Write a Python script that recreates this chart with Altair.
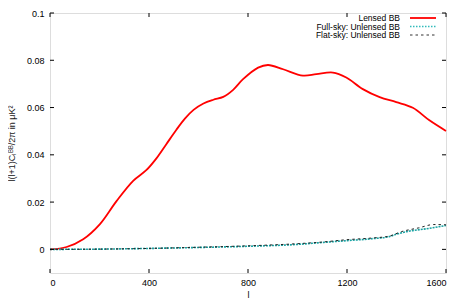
import altair as alt
import pandas as pd

# ---- data ----
lensed_l = [0, 67, 134, 201, 268, 336, 390, 430, 470, 510, 545, 580, 620, 660, 700,
            740, 780, 841, 881, 942, 1022, 1076, 1143, 1197, 1264, 1332, 1399, 1466,
            1533, 1600]
lensed_v = [0.0, 0.001, 0.0043, 0.0106, 0.0203, 0.0290, 0.0336, 0.0385, 0.0445, 0.0505,
            0.0553, 0.0590, 0.0617, 0.0633, 0.0645, 0.0675, 0.0720, 0.0769,
            0.0780, 0.0762, 0.0735, 0.0741, 0.0748, 0.0727, 0.0678, 0.0644, 0.0623,
            0.0599, 0.0546, 0.0501]

full_l = [0, 200, 400, 600, 800, 1000, 1100, 1200, 1300, 1370, 1400, 1450, 1520, 1600]
full_v = [0.0, 0.0001, 0.0004, 0.0008, 0.0013, 0.0021, 0.0029, 0.0037, 0.0045, 0.0054,
          0.0064, 0.0077, 0.0087, 0.0101]

flat_l = [0, 200, 400, 600, 800, 1000, 1100, 1200, 1300, 1370, 1420, 1490, 1550, 1600]
flat_v = [0.0, 0.0001, 0.0004, 0.0009, 0.0015, 0.0024, 0.0031, 0.0041, 0.0048, 0.0056,
          0.0075, 0.0091, 0.0105, 0.0104]

series_names = ["Lensed BB", "Full-sky: Unlensed BB", "Flat-sky: Unlensed BB"]
x_ticks = [0, 400, 800, 1200, 1600]
y_ticks = [0, 0.02, 0.04, 0.06, 0.08, 0.1]
x_domain = [0, 1600]
y_domain = [-0.01, 0.1]

W, H = 396, 260
FONT = "Liberation Sans"

xs = alt.Scale(domain=x_domain, nice=False, zero=False)
ys = alt.Scale(domain=y_domain, nice=False, zero=False)

df_lensed = pd.DataFrame({"l": lensed_l, "v": lensed_v})
df_full = pd.DataFrame({"l": full_l, "v": full_v})
df_flat = pd.DataFrame({"l": flat_l, "v": flat_v})

xaxis = alt.Axis(values=x_ticks, format="d", tickSize=0, domain=False, grid=False,
                 labelFontSize=9, labelPadding=5, labelFont=FONT, labelColor="#000",
                 title="l", titleFont=FONT, titleFontSize=9, titleFontWeight="normal",
                 titlePadding=3, titleColor="#000")
yaxis = alt.Axis(values=y_ticks, format="~g", tickSize=0, domain=False, grid=False,
                 labelFontSize=9, labelPadding=6, labelFont=FONT, labelColor="#000",
                 title="l(l+1)Cₗᴮᴮ/2π in μK²", titleFont=FONT, titleFontSize=9,
                 titleFontWeight="normal", titlePadding=10, titleColor="#222")

lensed = alt.Chart(df_lensed).mark_line(color="#ff0000", strokeWidth=1.8,
                                        interpolate="catmull-rom").encode(
    x=alt.X("l:Q", scale=xs, axis=xaxis),
    y=alt.Y("v:Q", scale=ys, axis=yaxis),
)
full = alt.Chart(df_full).mark_line(color="#1aa3a3", strokeWidth=1.6, strokeDash=[2, 1],
                                    interpolate="monotone").encode(
    x=alt.X("l:Q", scale=xs), y=alt.Y("v:Q", scale=ys))
flat = alt.Chart(df_flat).mark_line(color="#222222", strokeWidth=1, strokeDash=[2.5, 3],
                                    interpolate="monotone").encode(
    x=alt.X("l:Q", scale=xs), y=alt.Y("v:Q", scale=ys))

# mirrored, inward ticks (gnuplot style)
dxt = pd.DataFrame({"t": x_ticks})
dyt = pd.DataFrame({"t": y_ticks})
TL = 4
tick_style = dict(color="#000", strokeWidth=1)
xt_bottom = alt.Chart(dxt).mark_rule(**tick_style).encode(
    x=alt.X("t:Q", scale=xs), y=alt.value(H), y2=alt.value(H - TL))
xt_top = alt.Chart(dxt).mark_rule(**tick_style).encode(
    x=alt.X("t:Q", scale=xs), y=alt.value(0), y2=alt.value(TL))
yt_left = alt.Chart(dyt).mark_rule(**tick_style).encode(
    y=alt.Y("t:Q", scale=ys), x=alt.value(0), x2=alt.value(TL))
yt_right = alt.Chart(dyt).mark_rule(**tick_style).encode(
    y=alt.Y("t:Q", scale=ys), x=alt.value(W), x2=alt.value(W - TL))

# legend (gnuplot style: text right-aligned, sample on the right)
leg_rows = [5, 13.5, 22]
leg_styles = [
    dict(color="#ff0000", strokeWidth=1.8),
    dict(color="#33bbbb", strokeWidth=1.5, strokeDash=[1.5, 1.5]),
    dict(color="#333333", strokeWidth=1, strokeDash=[2.5, 3]),
]
legend_layers = []
for name, yy, st in zip(series_names, leg_rows, leg_styles):
    d = pd.DataFrame({"label": [name]})
    legend_layers.append(alt.Chart(d).mark_text(align="right", baseline="middle",
                                                font=FONT, fontSize=8.5, color="#000").encode(
        text="label:N", x=alt.value(350), y=alt.value(yy)))
    legend_layers.append(alt.Chart(d).mark_rule(**st).encode(
        x=alt.value(360), x2=alt.value(386), y=alt.value(yy)))

chart = alt.layer(lensed, full, flat, xt_bottom, xt_top, yt_left, yt_right,
                  *legend_layers).properties(
    width=W, height=H,
    autosize=alt.AutoSizeParams(type="none"),
    padding={"left": 42, "top": 5, "right": 9, "bottom": 26},
).configure_view(stroke="#000", strokeWidth=1).configure(background="white")

chart.save("out.html", embed_options={"renderer": "svg", "actions": False})
